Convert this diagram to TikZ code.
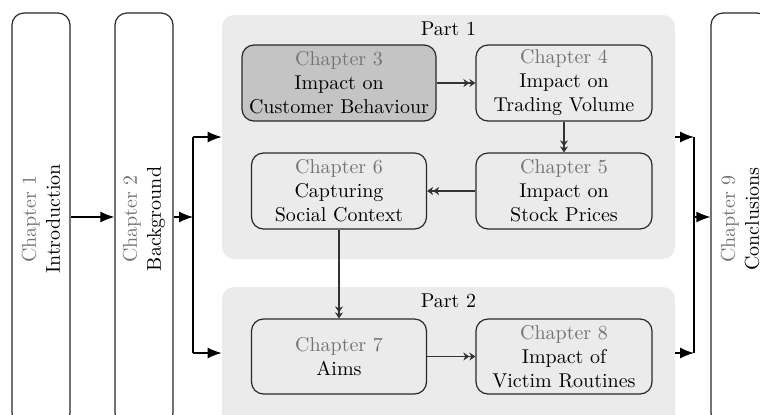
\documentclass[tikz,border=0pt]{standalone}
\usepackage{tikz}
\usepackage{xcolor}
\definecolor{chapgray}{RGB}{115, 115, 115}
\definecolor{partfill}{RGB}{235, 235, 235}
\definecolor{focusfill}{RGB}{196, 196, 196}
\definecolor{boxline}{RGB}{40, 40, 40}
\usetikzlibrary{arrows.meta}

\newcommand{\chapnum}[1]{\textcolor{chapgray}{Chapter #1}}

\tikzset{
    chapbox/.style={draw=boxline, semithick, rounded corners=6pt, align=center,
        minimum height=38pt, inner sep=1pt},
    sidebox/.style={chapbox, rotate=90, minimum width=206pt, minimum height=29pt},
    partbg/.style={fill=partfill, rounded corners=6pt, minimum width=226.5pt},
    bigarrow/.style={-{Latex[length=7pt, width=5.5pt]}, semithick},
    flow/.style={-{Stealth[length=3pt, width=4pt]Stealth[length=3pt, width=4pt]},
        semithick, draw=black!80}
}

\begin{document}
\begin{tikzpicture}[x=0.5pt, y=-0.5pt]

\useasboundingbox (0, 0) rectangle (760, 414);

% === Fondos de las partes ===
\node[partbg, minimum height=122pt] (part1) at (448.5, 137) {};
\node[anchor=north] (part1lbl) at (part1.north) {Part 1};

\node[partbg, minimum height=74pt] (part2) at (448.5, 361) {};
\node[anchor=north] (part2lbl) at (part2.north) {Part 2};

% === Capitulos laterales ===
\node[sidebox] (ch1) at (41, 219) {\chapnum{1}\\Introduction};
\node[sidebox] (ch2) at (144, 219) {\chapnum{2}\\Background};
\node[sidebox] (ch9) at (740, 219) {\chapnum{9}\\Conclusions};

% === Capitulos de la parte 1 ===
\node[chapbox, fill=focusfill, minimum width=97pt] (ch3) at (339, 83)
    {\chapnum{3}\\Impact on\\Customer Behaviour};
\node[chapbox, minimum width=88pt] (ch4) at (564, 83)
    {\chapnum{4}\\Impact on\\Trading Volume};
\node[chapbox, minimum width=88pt] (ch5) at (564, 191)
    {\chapnum{5}\\Impact on\\Stock Prices};
\node[chapbox, minimum width=87.5pt] (ch6) at (339, 191)
    {\chapnum{6}\\Capturing\\Social Context};

% === Capitulos de la parte 2 ===
\node[chapbox, minimum width=87.5pt, minimum height=37.5pt] (ch7) at (339, 356.5)
    {\chapnum{7}\\Aims};
\node[chapbox, minimum width=88pt, minimum height=37.5pt] (ch8) at (564, 356.5)
    {\chapnum{8}\\Impact of\\Victim Routines};

% === Puntos de union ===
\coordinate (jl) at (193, 217);
\coordinate (jl1) at (193, 137);
\coordinate (jl2) at (193, 353);
\coordinate (jr) at (694, 217);
\coordinate (jr1) at (694, 137);
\coordinate (jr2) at (694, 353);

% === Flechas principales ===
\draw[bigarrow] (ch1.south |- jl) -- (ch2.north |- jl);
\draw[bigarrow] (ch2.south |- jl) -- (jl);
\draw[semithick] (jl1) -- (jl2);
\draw[bigarrow] (jl1) -- (part1);
\draw[bigarrow] (jl2) -- (part2.west |- jl2);

\draw[bigarrow] (part1) -- (jr1);
\draw[bigarrow] (part2.east |- jr2) -- (jr2);
\draw[semithick] (jr1) -- (jr2);
\draw[bigarrow] (jr) -- (ch9.north |- jr);

% === Flujo entre capitulos ===
\draw[flow] (ch3) -- (ch4);
\draw[flow] (ch4) -- (ch5);
\draw[flow] (ch5) -- (ch6);
\draw[flow] (ch6) -- (ch7);
\draw[flow] (ch7) -- (ch8);

\end{tikzpicture}
\end{document}
